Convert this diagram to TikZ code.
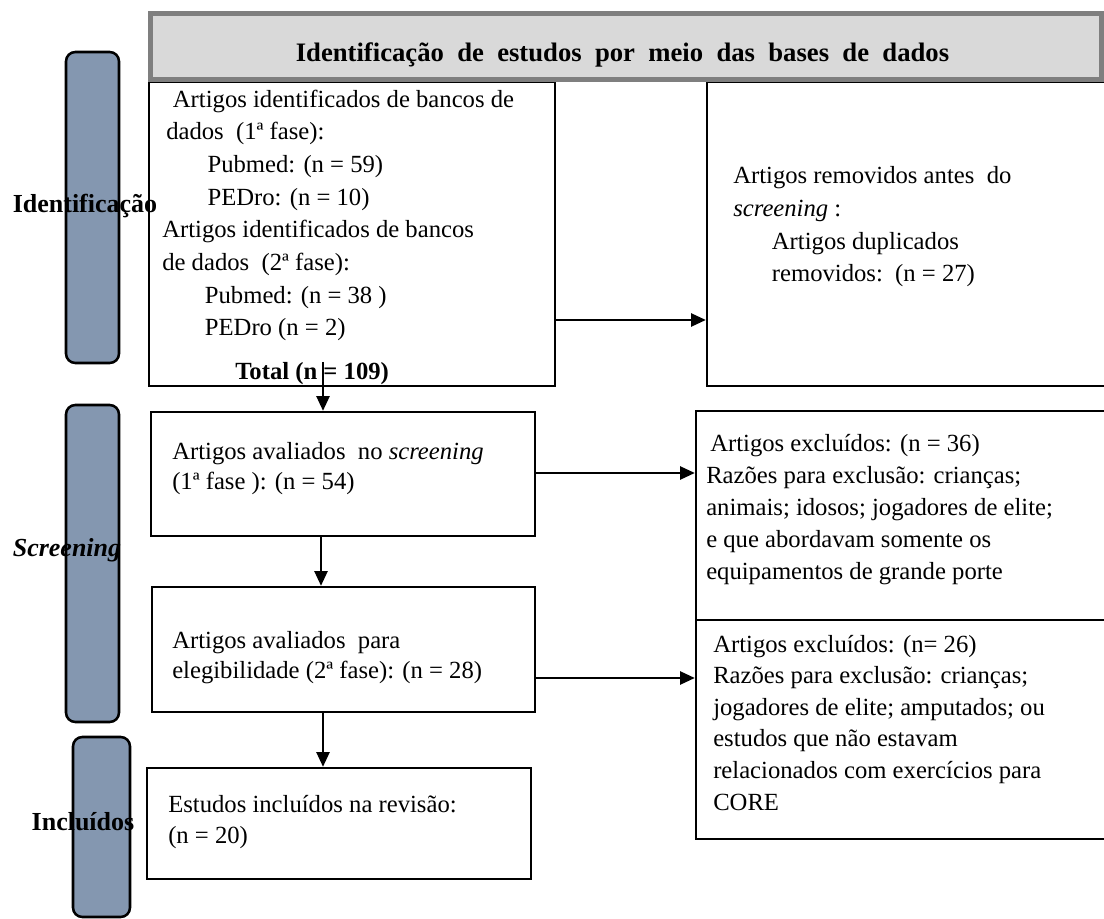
\documentclass[tikz,border=0pt]{standalone}
\usepackage{fontspec}
\setmainfont{Liberation Serif}
\usetikzlibrary{arrows.meta}
\definecolor{barblue}{RGB}{132,151,176}
\definecolor{headfill}{RGB}{217,217,217}
\definecolor{headline}{RGB}{127,127,127}

\begin{document}
\begin{tikzpicture}[x=0.75pt,y=0.75pt,yscale=-1,xscale=1,
	box/.style={draw, line width=1.9pt, inner sep=0pt},
	bar/.style={draw, line width=1.9pt, fill=barblue, rounded corners=7pt, inner sep=0pt},
	txt/.style={anchor=base west, inner sep=0pt, align=left, font=\fontsize{18.5}{24.5}\selectfont},
	lab/.style={anchor=base, inner sep=0pt, font=\fontsize{19.5}{23}\selectfont\bfseries},
	arr/.style={line width=1.1pt, -{Triangle[length=11pt,width=10pt]}}]
\useasboundingbox (0,0) rectangle (1104,919);

%Shape: Rounded Rect [id:phases]
\node[bar, minimum width=39.75pt, minimum height=233.25pt] (p1) at (92.5,207.5) {};
\node[bar, minimum width=39.75pt, minimum height=237.75pt] (p2) at (92.5,563.5) {};
\node[bar, minimum width=42.75pt, minimum height=135pt] (p3) at (101.5,827) {};

%Shape: Rectangle [id:boxes]
\node[box, minimum width=304.5pt, minimum height=228pt] (b1) at (352,234) {};
\node[box, minimum width=303.75pt, minimum height=228pt] (b2) at (909.5,234) {};
\node[box, minimum width=288pt, minimum height=93pt] (b3) at (343,474) {};
\node[box, minimum width=287.25pt, minimum height=93.75pt] (b4) at (343.5,649.5) {};
\node[box, minimum width=288pt, minimum height=83.25pt] (b5) at (339,823.5) {};
\node[box, minimum width=312pt, minimum height=156.75pt] (b6) at (904,515.5) {};
\node[box, minimum width=312pt, minimum height=164.25pt] (b7) at (904,729.5) {};

%Shape: Rectangle [id:header]
\node[draw=headline, line width=3.75pt, fill=headfill, minimum width=713.25pt, minimum height=49.5pt, inner sep=0pt] (hd) at (626,46.5) {};
% Text Node
\node[lab, font=\fontsize{20}{24}\selectfont\bfseries] (hdt) at (622.5,62) {\spaceskip=0.5em Identificação de estudos por meio das bases de dados};

% Text Node
\node[lab] (l1) at (85,213) {Identificação};
% Text Node
\node[lab, font=\fontsize{19.5}{23}\selectfont\bfseries\itshape] (l2) at (67,557) {Screening};
% Text Node
\node[lab] (l3) at (83,830) {Incluídos};

% Text Node (anchored on the last line)
\node[txt] (t1) at (162,336) {\hspace*{8pt}Artigos identificados de bancos de\\
	\hspace*{3pt}dados\ \ (1ª fase):\\
	\hspace*{34pt}Pubmed: (n = 59)\\
	\hspace*{34pt}PEDro: (n = 10)\\
	Artigos identificados de bancos\\
	de dados\ \ (2ª fase):\\
	\hspace*{32pt}Pubmed: (n = 38 )\\
	\hspace*{32pt}PEDro (n = 2)};
% Text Node
\node[txt, font=\fontsize{18.5}{24.5}\selectfont\bfseries] (t1b) at (235,380) {Total (n = 109)};
% Text Node
\node[txt] (t2) at (733,282) {Artigos removidos antes\ \ do\\
	\textit{screening} :\\
	\hspace*{29pt}Artigos duplicados\\
	\hspace*{29pt}removidos:\ \ (n = 27)};
% Text Node
\node[txt, font=\fontsize{18.5}{22.5}\selectfont] (t3) at (172,490) {Artigos avaliados\ \ no \textit{screening}\\
	(1ª fase ): (n = 54)};
% Text Node
\node[txt, font=\fontsize{18.5}{22.5}\selectfont] (t4) at (172,679) {Artigos avaliados\ \ para\\
	elegibilidade (2ª fase): (n = 28)};
% Text Node
\node[txt, font=\fontsize{18.5}{23.25}\selectfont] (t5) at (168,843) {Estudos incluídos na revisão:\\
	(n = 20)};
% Text Node
\node[txt, font=\fontsize{18.5}{24}\selectfont] (t6) at (706,580) {\hspace*{3pt}Artigos excluídos: (n = 36)\\
	Razões para exclusão: crianças;\\
	animais; idosos; jogadores de elite;\\
	e que abordavam somente os\\
	equipamentos de grande porte};
% Text Node
\node[txt, font=\fontsize{18.5}{23.7}\selectfont] (t7) at (713,810) {Artigos excluídos: (n= 26)\\
	Razões para exclusão: crianças;\\
	jogadores de elite; amputados; ou\\
	estudos que não estavam\\
	relacionados com exercícios para\\
	CORE};

%Straight Lines [id:arrows]
\coordinate (a1) at (323,362);
\draw[arr] (a1) -- (a1 |- b3.north);
\draw[arr] (b3.south -| 321,0) -- (b4.north -| 321,0);
\draw[arr] (b4.south -| 323,0) -- (b5.north -| 323,0);
\draw[arr] (b1.east |- 0,320) -- (b2.west |- 0,320);
\draw[arr] (b3.east |- 0,473) -- (b6.west |- 0,473);
\draw[arr] (b4.east |- 0,678) -- (b7.west |- 0,678);

\end{tikzpicture}
\end{document}
